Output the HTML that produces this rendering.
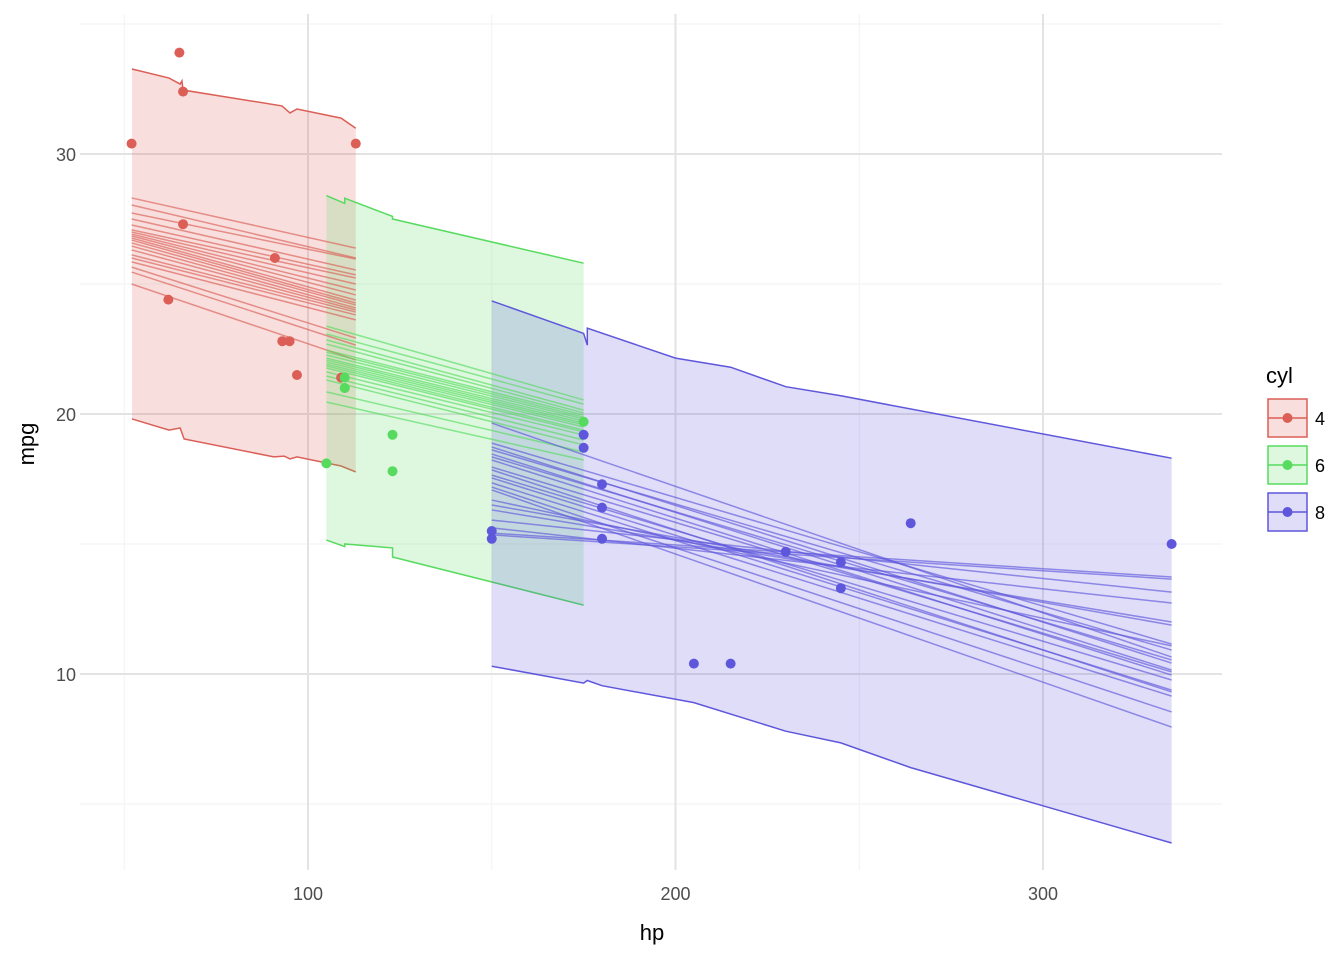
<!DOCTYPE html>
<html><head><meta charset="utf-8"><style>
body{margin:0;background:#fff}
text{font-family:"Liberation Sans",sans-serif}
</style></head><body>
<svg id="chart" width="1344" height="960" xmlns="http://www.w3.org/2000/svg">
<rect width="1344" height="960" fill="#fff"/>
<g id="grid"></g>
<g id="ribbons"></g>
<g id="lines"></g>
<g id="points"></g>
<g id="axes"></g>
<text x="652" y="940" font-size="22" text-anchor="middle" fill="#000">hp</text>
<text transform="translate(34,444) rotate(-90)" font-size="22" text-anchor="middle" fill="#000">mpg</text>
<g id="legend"></g>
</svg>
<script>
const groups=["4","6","8"];
const colors=["#db5f57","#57db5f","#5f57db"];
const xTicks=[100,200,300];
const xMinor=[50,150,250];
const yTicks=[10,20,30];
const yMinor=[5,15,25,35];
const hp4=[93,62,95,66,52,65,97,66,91,113,109];
const mpg4=[22.8,24.4,22.8,32.4,30.4,33.9,21.5,27.3,26.0,30.4,21.4];
const hp6=[110,110,110,105,123,123,175];
const mpg6=[21,21,21.4,18.1,19.2,17.8,19.7];
const hp8=[175,245,180,180,180,205,215,230,150,150,245,175,264,335];
const mpg8=[18.7,14.3,16.4,17.3,15.2,10.4,10.4,14.7,15.5,15.2,13.3,19.2,15.8,15.0];
const upX4=[52.1,62.2,65.2,65.7,66,92.9,95.1,97,109,113];
const upY4=[33.27,32.92,32.69,32.81,32.46,31.85,31.58,31.73,31.38,30.99];
const loX4=[52.1,62.2,65.2,66.3,90.7,93.5,95.1,97,109,113];
const loY4=[19.81,19.38,19.46,19.04,18.35,18.38,18.27,18.35,18.0,17.77];
const upX6=[105,110,110,123,123,175];
const upY6=[28.4,28.1,28.3,27.6,27.5,25.8];
const loX6=[105,110,110,123,123,175];
const loY6=[15.15,14.9,15.0,14.85,14.5,12.65];
const upX8=[150,175,176,176,200,215,230,245,335];
const upY8=[24.35,23.1,22.65,23.3,22.15,21.8,21.05,20.7,18.3];
const loX8=[150,175,176,180,205,230,245,264,335];
const loY8=[10.3,9.65,9.75,9.55,8.9,7.8,7.35,6.4,3.5];
const lineStart4=[28.31,28.04,27.73,27.5,27.27,27.08,27.0,26.92,26.85,26.77,26.69,26.58,26.46,26.31,26.12,26.0,25.85,25.65,25.46,25.0];
const lineEnd4=[26.38,26.0,25.96,25.54,25.35,25.23,25.0,24.77,24.58,24.38,24.27,24.19,24.08,24.0,23.92,23.81,23.62,22.92,22.65,22.08];
const lineStart6=[23.38,23.08,22.85,22.69,22.46,22.38,22.27,22.15,22.08,22.0,21.92,21.85,21.77,21.62,21.46,21.31,20.85,20.46];
const lineEnd6=[20.54,20.38,20.15,20.04,19.96,19.88,19.81,19.73,19.65,19.58,19.5,19.38,19.31,19.19,19.0,18.81,18.54,18.23];
const lineStart8=[19.65,18.88,18.73,18.62,18.46,18.35,18.23,17.96,17.85,17.65,17.54,17.35,17.19,17.08,16.69,16.5,16.31,15.92,15.62,15.42,15.35];
const lineEnd8=[10.65,11.15,10.42,10.92,10.15,10.54,9.96,10.08,9.31,9.77,9.38,9.15,8.54,7.96,11.08,11.88,12.0,13.15,12.73,13.73,13.65];

const X=v=>308+(v-100)*3.675;
const Y=v=>414-(v-20)*26;
const NS="http://www.w3.org/2000/svg";
function mk(tag,attrs,parent){const e=document.createElementNS(NS,tag);for(const k in attrs)e.setAttribute(k,attrs[k]);parent.appendChild(e);return e;}
const grid=document.getElementById('grid');
for(const v of xMinor){const l=mk('line',{x1:X(v),x2:X(v),y1:14,y2:870,stroke:'#f2f2f2','stroke-width':1},grid);

}
for(const v of yMinor){const l=mk('line',{x1:80,x2:1222,y1:Y(v),y2:Y(v),stroke:'#f2f2f2','stroke-width':1},grid);

}
const axes=document.getElementById('axes');
for(const v of xTicks){const l=mk('line',{x1:X(v),x2:X(v),y1:14,y2:870,stroke:'#e3e3e3','stroke-width':2},grid);


const t=mk('text',{x:X(v),y:900,'font-size':18,'text-anchor':'middle',fill:'#4d4d4d'},axes);t.textContent=v;

}
for(const v of yTicks){const l=mk('line',{x1:80,x2:1222,y1:Y(v),y2:Y(v),stroke:'#e3e3e3','stroke-width':2},grid);


const t=mk('text',{x:76,y:Y(v)+7,'font-size':18,'text-anchor':'end',fill:'#4d4d4d'},axes);t.textContent=v;

}
const rib=document.getElementById('ribbons');
const ups=[[upX4,upY4],[upX6,upY6],[upX8,upY8]],los=[[loX4,loY4],[loX6,loY6],[loX8,loY8]];
ups.forEach((u,i)=>{const lo=los[i];
const up=u[0].map((x,j)=>X(x)+','+Y(u[1][j]));
const dn=lo[0].map((x,j)=>X(x)+','+Y(lo[1][j]));
const p=mk('polygon',{points:up.concat(dn.slice().reverse()).join(' '),fill:colors[i],'fill-opacity':0.2,stroke:'none'},rib);


const a=mk('polyline',{points:up.join(' '),fill:'none',stroke:colors[i],'stroke-width':1.5},rib);


const b=mk('polyline',{points:dn.join(' '),fill:'none',stroke:colors[i],'stroke-width':1.5},rib);

});
const lg=document.getElementById('lines');
const ranges=[[52,113],[105,175],[150,335]];
[[lineStart4,lineEnd4],[lineStart6,lineEnd6],[lineStart8,lineEnd8]].forEach((s,i)=>{
s[0].forEach((v,j)=>{const l=mk('line',{x1:X(ranges[i][0]),x2:X(ranges[i][1]),y1:Y(v),y2:Y(s[1][j]),stroke:colors[i],'stroke-opacity':0.65,'stroke-width':1.5},lg);

});});
const pg=document.getElementById('points');
[[hp4,mpg4],[hp6,mpg6],[hp8,mpg8]].forEach((d,i)=>{d[0].forEach((h,j)=>{
const c=mk('circle',{cx:X(h),cy:Y(d[1][j]),r:5,fill:colors[i]},pg);

});});
const leg=document.getElementById('legend');
const tt=mk('text',{x:1266,y:383,'font-size':22,fill:'#000'},leg);tt.textContent='cyl';


groups.forEach((g,i)=>{const y0=399+i*47;
const r=mk('rect',{x:1268,y:y0,width:39,height:38,fill:colors[i],'fill-opacity':0.2,stroke:colors[i],'stroke-width':1.5},leg);


const l=mk('line',{x1:1268,x2:1307,y1:y0+19,y2:y0+19,stroke:colors[i],'stroke-width':1.5},leg);


const c=mk('circle',{cx:1287.5,cy:y0+19,r:5,fill:colors[i]},leg);


const t=mk('text',{x:1315,y:y0+26,'font-size':18,fill:'#000'},leg);t.textContent=g;

});
</script>
</body></html>
